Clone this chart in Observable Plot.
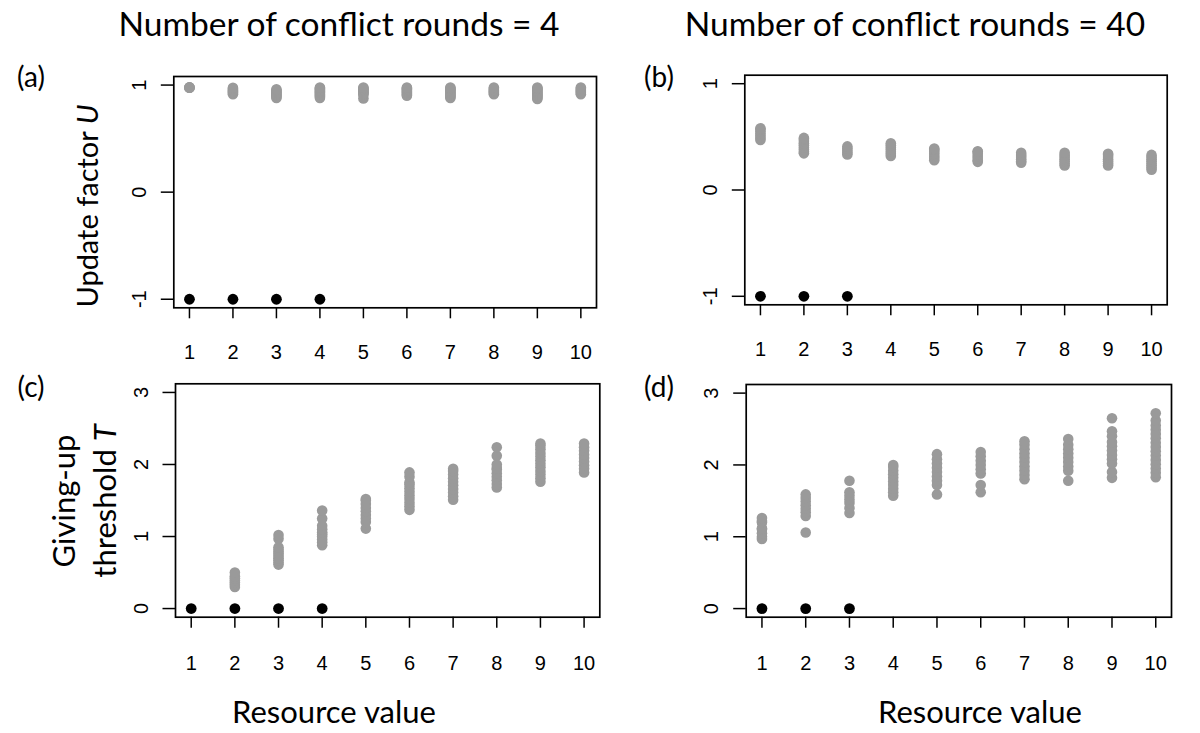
<!DOCTYPE html>
<html><head><meta charset="utf-8">
<script src="https://cdn.jsdelivr.net/npm/d3@7"></script>
<script src="https://cdn.jsdelivr.net/npm/@observablehq/plot@0.6"></script>
<style>
body{margin:0;background:#fff;}
#fig{position:relative;width:1200px;height:733px;overflow:hidden;background:#fff;}
.lbl{position:absolute;font-family:Lato,"Open Sans",sans-serif;color:#000;white-space:nowrap;line-height:1;}
.panel{position:absolute;}
.rot{transform:translate(-50%,-50%) rotate(-90deg);transform-origin:center;}
.ctr{transform:translate(-50%,-50%);}
</style></head><body><div id="fig"></div>
<script>
// ---------- data ----------
const resourceValues = [1, 2, 3, 4, 5, 6, 7, 8, 9, 10];
const xTickLabels = ["1", "2", "3", "4", "5", "6", "7", "8", "9", "10"];
const uTicks = [-1, 0, 1];
const tTicks = [0, 1, 2, 3];
const columnTitles = ["Number of conflict rounds = 4", "Number of conflict rounds = 40"];
const panelLetters = ["(a)", "(b)", "(c)", "(d)"];

// Update factor U, 4 conflict rounds (grey points, per resource value)
const U_rounds4 = [
  [0.975, 0.98, 0.978, 0.976],
  [0.915, 0.925, 0.935, 0.945, 0.955, 0.965, 0.975],
  [0.88, 0.89, 0.90, 0.91, 0.92, 0.93, 0.94, 0.95, 0.96],
  [0.88, 0.89, 0.90, 0.91, 0.92, 0.93, 0.94, 0.95, 0.96, 0.97, 0.977],
  [0.875, 0.91, 0.92, 0.93, 0.94, 0.95, 0.96, 0.97, 0.977],
  [0.90, 0.91, 0.92, 0.93, 0.94, 0.95, 0.96, 0.97, 0.977],
  [0.88, 0.89, 0.90, 0.91, 0.92, 0.93, 0.94, 0.95, 0.96, 0.97, 0.977],
  [0.915, 0.925, 0.935, 0.945, 0.955, 0.965, 0.977],
  [0.87, 0.88, 0.89, 0.90, 0.91, 0.92, 0.93, 0.94, 0.95, 0.96, 0.97, 0.977],
  [0.915, 0.925, 0.935, 0.945, 0.955, 0.965, 0.977]
];
// Update factor U, 40 conflict rounds
const U_rounds40 = [
  [0.47, 0.49, 0.51, 0.53, 0.55, 0.57, 0.58],
  [0.345, 0.36, 0.38, 0.40, 0.42, 0.44, 0.46, 0.48, 0.49],
  [0.335, 0.35, 0.37, 0.39, 0.41],
  [0.32, 0.34, 0.36, 0.38, 0.40, 0.42, 0.44],
  [0.28, 0.30, 0.32, 0.34, 0.36, 0.38, 0.39],
  [0.265, 0.28, 0.30, 0.32, 0.34, 0.36, 0.365],
  [0.256, 0.27, 0.29, 0.31, 0.33, 0.35],
  [0.23, 0.25, 0.27, 0.29, 0.31, 0.33, 0.35],
  [0.23, 0.25, 0.27, 0.29, 0.31, 0.33, 0.34],
  [0.19, 0.21, 0.23, 0.25, 0.27, 0.29, 0.31, 0.33]
];
// Giving-up threshold T, 4 conflict rounds
const T_rounds4 = [
  [],
  [0.30, 0.33, 0.36, 0.39, 0.42, 0.45, 0.50],
  [0.61, 0.64, 0.67, 0.70, 0.73, 0.76, 0.79, 0.82, 0.85, 0.97, 1.02],
  [0.88, 0.92, 0.96, 1.00, 1.03, 1.06, 1.10, 1.15, 1.25, 1.36],
  [1.11, 1.20, 1.25, 1.30, 1.35, 1.40, 1.45, 1.50, 1.52],
  [1.37, 1.42, 1.47, 1.52, 1.57, 1.62, 1.67, 1.72, 1.75, 1.83, 1.89],
  [1.51, 1.56, 1.61, 1.66, 1.71, 1.76, 1.81, 1.86, 1.91, 1.94],
  [1.68, 1.73, 1.78, 1.83, 1.88, 1.93, 1.95, 2.00, 2.12, 2.24],
  [1.76, 1.81, 1.86, 1.91, 1.96, 2.01, 2.06, 2.11, 2.16, 2.21, 2.26, 2.29],
  [1.89, 1.94, 1.99, 2.04, 2.09, 2.14, 2.19, 2.24, 2.29]
];
// Giving-up threshold T, 40 conflict rounds
const T_rounds40 = [
  [0.97, 1.00, 1.05, 1.10, 1.12, 1.20, 1.22, 1.26],
  [1.06, 1.29, 1.34, 1.39, 1.44, 1.49, 1.54, 1.59],
  [1.33, 1.40, 1.47, 1.52, 1.57, 1.62, 1.78],
  [1.57, 1.62, 1.67, 1.72, 1.77, 1.82, 1.87, 1.92, 1.97, 2.00],
  [1.59, 1.72, 1.78, 1.84, 1.90, 1.96, 2.02, 2.08, 2.15],
  [1.62, 1.72, 1.88, 1.94, 2.00, 2.06, 2.12, 2.18],
  [1.80, 1.86, 1.92, 1.98, 2.04, 2.10, 2.16, 2.22, 2.28, 2.33],
  [1.78, 1.92, 1.98, 2.04, 2.10, 2.16, 2.22, 2.28, 2.36],
  [1.82, 1.90, 2.02, 2.08, 2.14, 2.20, 2.26, 2.32, 2.40, 2.47, 2.65],
  [1.83, 1.89, 1.95, 2.01, 2.07, 2.13, 2.19, 2.25, 2.31, 2.37, 2.43, 2.49, 2.55, 2.62, 2.72]
];
// resource values where the black (non-contesting) points sit
const black_rounds4 = [1, 2, 3, 4];
const black_rounds40 = [1, 2, 3];
const U_blackValue = -1;
const T_blackValue = 0;

// ---------- drawing ----------
const fig = document.getElementById("fig");
const tickFont = "'Liberation Sans', Arial, Helvetica, sans-serif";

function panel(o) {
  const greyData = resourceValues.flatMap((r, i) => o.grey[i].map(v => ({r, v})));
  const blackData = o.blackX.map(r => ({r, v: o.blackY}));
  const svg = Plot.plot({
    width: o.w, height: o.h,
    marginLeft: o.box.l - o.left,
    marginRight: o.left + o.w - o.box.r,
    marginTop: o.box.t - o.top,
    marginBottom: o.top + o.h - o.box.b,
    x: {domain: [0.64, 10.36]},
    y: {domain: o.yDomain},
    style: {background: "transparent", overflow: "visible"},
    marks: [
      Plot.dot(greyData, {x: "r", y: "v", r: 5.3, fill: "#9a9a9a", stroke: "none"}),
      Plot.dot(blackData, {x: "r", y: "v", r: 5.4, fill: "#000", stroke: "none"}),
      Plot.frame({stroke: "#000", strokeWidth: 1.7}),
      Plot.axisX({ticks: resourceValues, tickFormat: d => xTickLabels[resourceValues.indexOf(d)],
        tickSize: 11, tickPadding: o.xPad, fontSize: 20, fontFamily: tickFont, label: null,
        strokeWidth: 1.5, stroke: "#000", fill: "#000"}),
      Plot.axisY({ticks: o.yTicks, tickSize: 12.5, tickFormat: () => "", label: null, strokeWidth: 1.5, stroke: "#000"}),
      Plot.text(o.yTicks, {y: d => d, text: d => String(d), frameAnchor: "left", dx: -28, rotate: -90,
        lineAnchor: "bottom", textAnchor: "middle", fontSize: 20, fontFamily: tickFont, fill: "#000"})
    ]
  });
  const div = document.createElement("div");
  div.className = "panel";
  div.style.left = o.left + "px";
  div.style.top = o.top + "px";
  div.appendChild(svg);
  fig.appendChild(div);
}

panel({left: 0, top: 0, w: 600, h: 365, box: {l: 173.3, r: 596, t: 76, b: 307.3},
  yDomain: [-1.08, 1.08], yTicks: uTicks, grey: U_rounds4, blackX: black_rounds4, blackY: U_blackValue, xPad: 25.7});
panel({left: 600, top: 0, w: 600, h: 365, box: {l: 744.3, r: 1166.7, t: 74.7, b: 304.3},
  yDomain: [-1.08, 1.08], yTicks: uTicks, grey: U_rounds40, blackX: black_rounds40, blackY: U_blackValue, xPad: 26.4});
panel({left: 0, top: 365, w: 600, h: 300, box: {l: 175, r: 599.3, t: 383.3, b: 616.7},
  yDomain: [-0.12, 3.12], yTicks: tTicks, grey: T_rounds4, blackX: black_rounds4, blackY: T_blackValue, xPad: 27.3});
panel({left: 600, top: 365, w: 600, h: 300, box: {l: 745.7, r: 1171, t: 384, b: 616.7},
  yDomain: [-0.12, 3.12], yTicks: tTicks, grey: T_rounds40, blackX: black_rounds40, blackY: T_blackValue, xPad: 27.3});

function label(html, x, y, size, cls) {
  const d = document.createElement("div");
  d.className = "lbl " + cls;
  d.style.left = x + "px";
  d.style.top = y + "px";
  d.style.fontSize = size + "px";
  d.innerHTML = html;
  fig.appendChild(d);
  return d;
}
label(columnTitles[0], 339, 24, 33.5, "ctr");
label(columnTitles[1], 915, 24, 33.5, "ctr");
label(panelLetters[0], 31, 76, 28, "ctr");
label(panelLetters[1], 659, 76, 28, "ctr");
label(panelLetters[2], 31, 386, 28, "ctr");
label(panelLetters[3], 659, 386, 28, "ctr");
label("Update factor <i>U</i>", 86, 206, 29, "rot");
label("Giving-up", 63, 501, 31, "rot");
label("threshold <i>T</i>", 104, 501, 31, "rot");
label("Resource value", 334, 711, 31, "ctr");
label("Resource value", 980, 711, 31, "ctr");
</script></body></html>
